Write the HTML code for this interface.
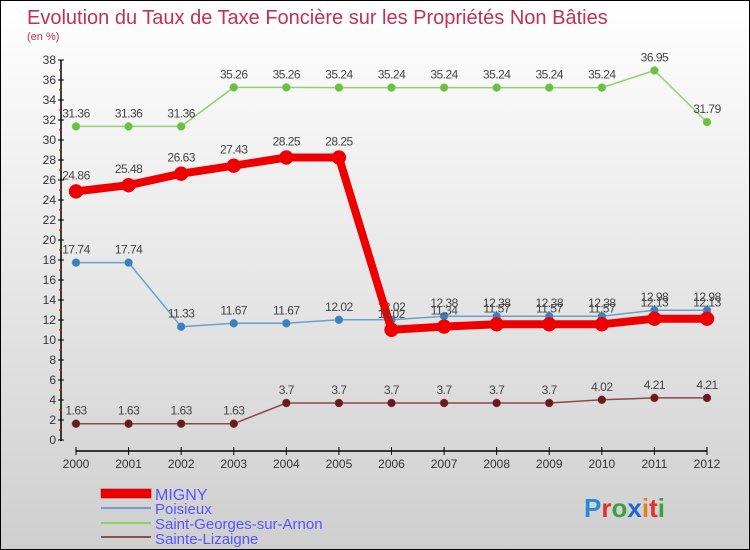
<!DOCTYPE html>
<html><head><meta charset="utf-8"><style>
body{margin:0}
#c{width:748px;height:548px;border:1px solid #000;background:linear-gradient(#ffffff,#cfcfcf);position:relative;font-family:"Liberation Sans",sans-serif}
</style></head><body>
<div id="c">
<svg id="s" width="748" height="548" style="position:absolute;left:0;top:0">
<text x="26" y="23" font-size="20" fill="#c0305a">Evolution du Taux de Taxe Foncière sur les Propriétés Non Bâties</text>
<text x="26" y="39" font-size="11" fill="#c0305a">(en %)</text>
<g id="axes"></g><g id="series"></g>
<g>
<rect x="100" y="488" width="50" height="9" fill="#e00" stroke="#900" stroke-width="0.5"/>
<text x="154" y="499" font-size="16" fill="#55f">MIGNY</text>
<rect x="100" y="506" width="50" height="2" fill="#6a9fcf"/>
<text x="154" y="513" font-size="15" fill="#55f">Poisieux</text>
<rect x="100" y="521" width="50" height="2" fill="#8ed060"/>
<text x="154" y="528" font-size="15" fill="#55f">Saint-Georges-sur-Arnon</text>
<rect x="100" y="535" width="50" height="2" fill="#8a5050"/>
<text x="154" y="543" font-size="15" fill="#55f">Sainte-Lizaigne</text>
</g>
<text x="583" y="516" font-size="26" font-weight="bold"><tspan fill="#2a8ad8">P</tspan><tspan fill="#e03030">r</tspan><tspan fill="#40a040">o</tspan><tspan fill="#1a6ad0">x</tspan><tspan fill="#e08020">i</tspan><tspan fill="#e03030">t</tspan><tspan fill="#40a040">i</tspan></text>
</svg>
</div>
<script>
const years=[2000,2001,2002,2003,2004,2005,2006,2007,2008,2009,2010,2011,2012];
const yTicks=[0,2,4,6,8,10,12,14,16,18,20,22,24,26,28,30,32,34,36,38];
const migny=[24.86,25.48,26.63,27.43,28.25,28.25,11.02,11.34,11.57,11.57,11.57,12.13,12.13];
const poisieux=[17.74,17.74,11.33,11.67,11.67,12.02,12.02,12.38,12.38,12.38,12.38,12.98,12.98];
const sga=[31.36,31.36,31.36,35.26,35.26,35.24,35.24,35.24,35.24,35.24,35.24,36.95,31.79];
const sl=[1.63,1.63,1.63,1.63,3.7,3.7,3.7,3.7,3.7,3.7,4.02,4.21,4.21];
const NS="http://www.w3.org/2000/svg";
const X=i=>75+i*(706-75)/(years.length-1);
const Y=v=>439-v*10;
function mk(t,a,p){const e=document.createElementNS(NS,t);for(const k in a)e.setAttribute(k,a[k]);p.appendChild(e);return e;}
const ax=document.getElementById('axes');
let l=mk('line',{x1:60,y1:Y(0)+1,x2:60,y2:Y(38),stroke:'#000','stroke-width':1.5},ax);


yTicks.forEach(v=>{
 const t=mk('line',{x1:57,x2:63,y1:Y(v),y2:Y(v),stroke:'#000'},ax);
 
 
 if(v<38){
 const m=mk('line',{x1:58,x2:61,y1:Y(v+1),y2:Y(v+1),stroke:'#e00'},ax);
 
 
 }
 const tx=mk('text',{x:55,y:Y(v)+4,'font-size':12,fill:'#333','text-anchor':'end'},ax);
 tx.textContent=v;
 
 
});
l=mk('line',{x1:X(0),x2:X(12),y1:450,y2:450,stroke:'#000','stroke-width':1.5},ax);


years.forEach((y,i)=>{
 const t=mk('line',{x1:X(i),x2:X(i),y1:446,y2:454,stroke:'#000'},ax);
 
 
 const tx=mk('text',{x:X(i),y:467,'font-size':12,fill:'#333','text-anchor':'middle'},ax);
 tx.textContent=y;
 
 
});
const sg=document.getElementById('series');
function draw(vals,color,w,r,dot,name){
 const g=mk('g',{},sg);
 
 
 const p=mk('polyline',{points:vals.map((v,i)=>X(i)+','+Y(v)).join(' '),fill:'none',stroke:color,'stroke-width':w,'stroke-linejoin':'round'},g);
 
 
 vals.forEach((v,i)=>{
  const c=mk('circle',{cx:X(i),cy:Y(v),r:r,fill:dot,stroke:color,'stroke-width':0.5},g);
  
  
  const t=mk('text',{x:X(i),y:Y(v)-(r+5),'font-size':12,fill:'#444','text-anchor':'middle','letter-spacing':'-0.5'},g);
  t.textContent=String(v);
  
  
 });
}
draw(sl,'#8a4a4a',1.5,4,'#6a1a1a','sainte-lizaigne');
draw(sga,'#90d070',1.5,4,'#6cc040','saint-georges');
draw(poisieux,'#6a9fcf',1.5,4,'#3a80c0','poisieux');
draw(migny,'#ee0000',8,7,'#ee0000','migny');
</script>
</body></html>
